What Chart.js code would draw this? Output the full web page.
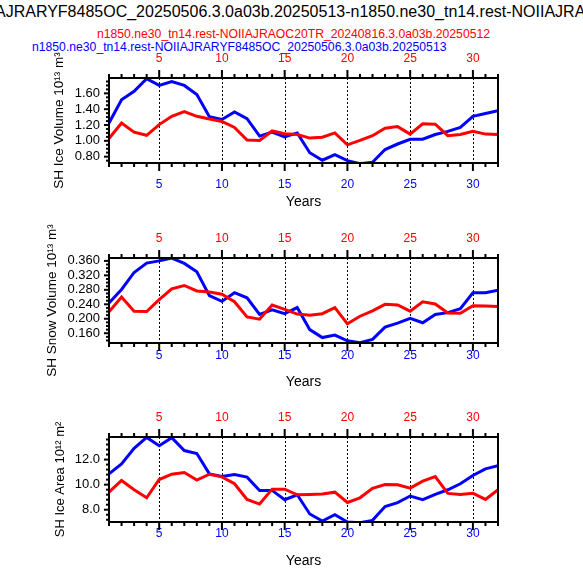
<!DOCTYPE html>
<html>
<head>
<meta charset="utf-8">
<script src="https://cdn.jsdelivr.net/npm/chart.js@4.4.1/dist/chart.umd.min.js"></script>
<style>
  html, body { margin: 0; padding: 0; background: #fff; width: 583px; height: 571px; overflow: hidden; position: relative;
               font-family: "Liberation Sans", Arial, sans-serif; }
  .ttl { position: absolute; white-space: nowrap; line-height: 1; }
  #main { top: 4px; left: 0; font-size: 16px; color: #000; }
  #sub1 { top: 28px; left: 97px; font-size: 12.2px; color: #ff0000; }
  #sub2 { top: 41px; left: 32px; font-size: 12.2px; color: #0000ff; }
  canvas { position: absolute; left: 0; }
</style>
</head>
<body>
<div class="ttl" id="main">n1850.ne30_tn14.rest-NOIIAJRARYF8485OC_20250506.3.0a03b.20250513-n1850.ne30_tn14.rest-NOIIAJRAOC20TR_20240816.3.0a03b.20250512</div>
<div class="ttl" id="sub1">n1850.ne30_tn14.rest-NOIIAJRAOC20TR_20240816.3.0a03b.20250512</div>
<div class="ttl" id="sub2">n1850.ne30_tn14.rest-NOIIAJRARYF8485OC_20250506.3.0a03b.20250513</div>
<canvas id="c1" width="583" height="175" style="top:38px"></canvas>
<canvas id="c2" width="583" height="175" style="top:218px"></canvas>
<canvas id="c3" width="583" height="175" style="top:397px"></canvas>
<script>
// ---- data ----
const years = [1, 2, 3, 4, 5, 6, 7, 8, 9, 10, 11, 12, 13, 14, 15, 16,
               17, 18, 19, 20, 21, 22, 23, 24, 25, 26, 27, 28, 29, 30, 31, 32];

const iceVolBlue = [1.225, 1.52, 1.625, 1.785, 1.70, 1.75, 1.70, 1.585, 1.305, 1.27, 1.365, 1.28, 1.06, 1.11, 1.05, 1.10,
                    0.85, 0.755, 0.825, 0.75, 0.71, 0.73, 0.89, 0.96, 1.02, 1.02, 1.08, 1.12, 1.17, 1.31, 1.345, 1.38];
const iceVolRed  = [1.03, 1.225, 1.11, 1.07, 1.205, 1.31, 1.37, 1.31, 1.275, 1.245, 1.17, 1.01, 1.005, 1.125, 1.09, 1.08,
                    1.035, 1.045, 1.10, 0.95, 1.005, 1.065, 1.16, 1.18, 1.085, 1.215, 1.21, 1.065, 1.08, 1.12, 1.085, 1.08];

const snowVolBlue = [0.244, 0.281, 0.328, 0.354, 0.360, 0.368, 0.353, 0.330, 0.264, 0.248, 0.272, 0.258, 0.212, 0.225, 0.214, 0.231,
                     0.170, 0.148, 0.155, 0.139, 0.134, 0.143, 0.177, 0.188, 0.201, 0.189, 0.212, 0.217, 0.228, 0.272, 0.272, 0.279];
const snowVolRed  = [0.219, 0.260, 0.221, 0.220, 0.253, 0.283, 0.292, 0.277, 0.274, 0.268, 0.247, 0.205, 0.199, 0.238, 0.226, 0.213,
                     0.210, 0.214, 0.231, 0.186, 0.207, 0.222, 0.240, 0.238, 0.221, 0.247, 0.241, 0.216, 0.215, 0.236, 0.235, 0.234];

const iceAreaBlue = [10.86, 11.66, 12.9, 13.77, 13.11, 13.75, 12.72, 12.48, 10.86, 10.65, 10.81, 10.6, 9.54, 9.54, 8.8, 9.19,
                     7.66, 7.10, 7.6, 7.02, 6.97, 7.15, 8.26, 8.56, 9.09, 8.8, 9.22, 9.59, 10.07, 10.73, 11.26, 11.52];
const iceAreaRed  = [9.4, 10.33, 9.59, 8.95, 10.41, 10.83, 10.97, 10.36, 10.83, 10.62, 10.07, 8.82, 8.45, 9.64, 9.64, 9.19,
                     9.22, 9.25, 9.4, 8.58, 8.95, 9.7, 10.01, 9.99, 9.72, 10.28, 10.65, 9.3, 9.22, 9.32, 8.82, 9.59];

const BLUE = '#0000ff';
const RED = '#ff0000';
const FONT = "'Liberation Sans', Arial, sans-serif";

// the long top title is wider than the page; shift it so the same part shows
(function placeMainTitle() {
    const el = document.getElementById('main');
    const c = document.createElement('canvas').getContext('2d');
    c.font = "16px 'Liberation Sans', Arial, sans-serif";
    const hidden = c.measureText('n1850.ne30_tn14.rest-NOII').width;
    el.style.left = -(hidden + 5) + 'px';
})();

// frame, tick marks and dashed year lines (NCL look)
const framePlugin = {
    id: 'frame',
    beforeDatasetsDraw(chart) {
        const { ctx, chartArea: a, scales: { x } } = chart;
        ctx.save();
        ctx.strokeStyle = '#000';
        ctx.lineWidth = 1;
        ctx.setLineDash([2, 2]);
        x.ticks.forEach(t => {
            if (t.value % 5 !== 0) return;
            const px = Math.round(x.getPixelForValue(t.value)) + 0.5;
            ctx.beginPath();
            ctx.moveTo(px, a.top);
            ctx.lineTo(px, a.bottom);
            ctx.stroke();
        });
        ctx.restore();
    },
    afterDraw(chart, args, opts) {
        const { ctx, chartArea: a, scales: { x, y } } = chart;
        ctx.save();
        ctx.strokeStyle = '#000';
        ctx.lineWidth = 2;
        // x ticks, top and bottom, outward
        x.ticks.forEach(t => {
            const px = x.getPixelForValue(t.value);
            const len = t.value % 5 === 0 ? 8 : 4;
            ctx.beginPath();
            ctx.moveTo(px, a.bottom); ctx.lineTo(px, a.bottom + len);
            ctx.moveTo(px, a.top); ctx.lineTo(px, a.top - len);
            ctx.stroke();
        });
        // y ticks, left, outward
        const n0 = Math.ceil(y.min / opts.minor - 1e-6);
        const n1 = Math.floor(y.max / opts.minor + 1e-6);
        for (let n = n0; n <= n1; n++) {
            const v = n * opts.minor;
            const r = v / opts.major;
            const isMajor = Math.abs(r - Math.round(r)) < 1e-6;
            const py = y.getPixelForValue(v);
            ctx.beginPath();
            ctx.moveTo(a.left, py);
            ctx.lineTo(a.left - (isMajor ? 5 : 3), py);
            ctx.stroke();
        }
        ctx.strokeRect(a.left, a.top, a.right - a.left, a.bottom - a.top);
        ctx.restore();
    }
};

function makePanel(id, blue, red, cfg) {
    const toPts = vals => years.map((yr, i) => ({ x: yr, y: vals[i] }));
    new Chart(document.getElementById(id), {
        type: 'line',
        data: {
            datasets: [
                { data: toPts(red), borderColor: RED, borderWidth: 3, pointRadius: 0, tension: 0 },
                { data: toPts(blue), borderColor: BLUE, borderWidth: 3, pointRadius: 0, tension: 0 }
            ]
        },
        options: {
            responsive: false,
            animation: false,
            events: [],
            layout: { padding: { left: 0, right: 85, top: 0, bottom: 0 } },
            plugins: {
                legend: { display: false },
                tooltip: { enabled: false },
                frame: { minor: cfg.minor, major: cfg.major }
            },
            scales: {
                x: {
                    type: 'linear', position: 'bottom', min: 1, max: 32,
                    grid: { display: false, drawTicks: false },
                    border: { display: false },
                    ticks: {
                        stepSize: 1, autoSkip: false, maxRotation: 0, padding: cfg.bottomPad,
                        color: BLUE, font: { family: FONT, size: 12 },
                        callback: v => (v % 5 === 0 ? String(v) : '')
                    },
                    title: { display: true, text: 'Years', color: '#000', font: { family: FONT, size: 14 },
                             padding: { top: 0, bottom: 2.6 } },
                    afterFit: s => { s.height = 50; }
                },
                xTop: {
                    type: 'linear', position: 'top', min: 1, max: 32,
                    grid: { display: false, drawTicks: false },
                    border: { display: false },
                    ticks: {
                        stepSize: 1, autoSkip: false, maxRotation: 0, padding: 12,
                        color: RED, font: { family: FONT, size: 12 },
                        callback: v => (v % 5 === 0 ? String(v) : '')
                    },
                    afterFit: s => { s.height = 40; }
                },
                y: {
                    type: 'linear', position: 'left', min: cfg.min, max: cfg.max,
                    grid: { display: false, drawTicks: false },
                    border: { display: false },
                    ticks: {
                        stepSize: cfg.major, includeBounds: false, autoSkip: false, padding: 9,
                        color: '#000', font: { family: FONT, size: 13 },
                        callback: v => v.toFixed(cfg.digits)
                    },
                    title: { display: true, text: cfg.label, color: '#000', font: { family: FONT, size: cfg.labelSize },
                             padding: { top: cfg.labelPad, bottom: 0 } },
                    afterFit: s => { s.width = 109; }
                }
            }
        },
        plugins: [framePlugin]
    });
}

makePanel('c1', iceVolBlue, iceVolRed, {
    min: 0.72, max: 1.794, major: 0.2, minor: 0.05, digits: 2,
    label: 'SH Ice Volume 10\u00b9\u00b3 m\u00b3', labelSize: 13.5, labelPad: 50.9, bottomPad: 14.8
});
makePanel('c2', snowVolBlue, snowVolRed, {
    min: 0.133, max: 0.368, major: 0.04, minor: 0.01, digits: 3,
    label: 'SH Snow Volume 10\u00b9\u00b3 m\u00b3', labelSize: 13.5, labelPad: 44.6, bottomPad: 5
});
makePanel('c3', iceAreaBlue, iceAreaRed, {
    min: 7.02, max: 13.8, major: 2, minor: 0.4, digits: 1,
    label: 'SH Ice Area 10\u00b9\u00b2 m\u00b2', labelSize: 13, labelPad: 52.9, bottomPad: 4.5
});
</script>
</body>
</html>
